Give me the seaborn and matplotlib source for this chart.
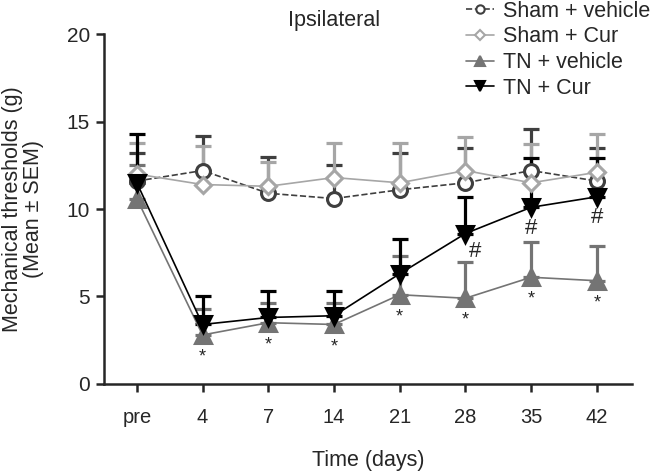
import numpy as np
import pandas as pd
import seaborn as sns
import matplotlib.pyplot as plt
from matplotlib.lines import Line2D

# time points (x categories)
days = ["pre", "4", "7", "14", "21", "28", "35", "42"]

# group means (g) and upper SEM
sham_veh = [11.6, 12.2, 10.9, 10.6, 11.1, 11.5, 12.2, 11.6]
sham_veh_sem = [1.6, 2.0, 2.1, 1.9, 2.1, 2.0, 2.4, 1.9]
sham_cur = [12.0, 11.4, 11.3, 11.8, 11.5, 12.2, 11.5, 12.1]
sham_cur_sem = [1.8, 2.2, 1.4, 2.0, 2.3, 1.9, 2.2, 2.2]
tn_veh = [10.6, 2.8, 3.5, 3.4, 5.1, 4.9, 6.1, 5.9]
tn_veh_sem = [1.9, 1.5, 1.1, 1.2, 2.2, 2.1, 2.0, 2.0]
tn_cur = [11.5, 3.4, 3.8, 3.9, 6.3, 8.6, 10.1, 10.7]
tn_cur_sem = [2.8, 1.6, 1.5, 1.4, 2.0, 2.1, 2.8, 2.2]

# significance marks
star_days = ["4", "7", "14", "21", "28", "35", "42"]
hash_days = ["28", "35", "42"]

sns.set_style("ticks")
plt.rcParams['font.family'] = ['Liberation Sans', 'DejaVu Sans']

fig = plt.figure(figsize=(6.56, 4.74), dpi=100)
ax = fig.add_axes([0.1585, 0.19, 0.8045, 0.738])

x = np.arange(len(days))

groups = [
    ("Sham + vehicle", sham_veh, sham_veh_sem, "#3f3f3f", "--", "o", "white", 10),
    ("Sham + Cur", sham_cur, sham_cur_sem, "#a6a6a6", "-", "D", "white", 8),
    ("TN + vehicle", tn_veh, tn_veh_sem, "#747474", "-", "^", "#747474", 12),
    ("TN + Cur", tn_cur, tn_cur_sem, "#000000", "-", "v", "#000000", 12),
]

handles = []
for i, (name, mean, sem, col, ls, mk, mfc, ms) in enumerate(groups):
    df = pd.DataFrame({"day": x, "value": mean})
    ax.errorbar(x, mean, yerr=[np.zeros(len(sem)), sem], fmt="none",
                ecolor=col, elinewidth=2.3, capsize=6, capthick=2.3, zorder=2 + i)
    sns.lineplot(data=df, x="day", y="value", ax=ax, color=col, linestyle=ls,
                 linewidth=1.2, marker=mk, markersize=ms, markerfacecolor=mfc,
                 markeredgecolor=col, markeredgewidth=2.2, zorder=6 + i)
    handles.append(Line2D([], [], color=col, linestyle=ls, linewidth=1.2,
                          marker=mk, markersize=ms * 0.6, markerfacecolor=mfc,
                          markeredgecolor=col, markeredgewidth=1.5, label=name))

# asterisks under TN + vehicle
for d in star_days:
    i = days.index(d)
    ax.annotate("*", (i, tn_veh[i]), xytext=(0, -16), textcoords="offset points",
                ha="center", va="center", fontsize=13)

# hashes under TN + Cur
hash_off = {"28": (7, -13), "35": (0, -15), "42": (0, -15)}
for d in hash_days:
    i = days.index(d)
    ax.annotate("#", (i, tn_cur[i]), xytext=hash_off[d], textcoords="offset points",
                ha="center", va="center", fontsize=16)

ax.set_xlim(-0.5, 7.53)
ax.set_ylim(0, 20)
ax.set_xticks(x)
ax.set_xticklabels(days, fontsize=14.5)
ax.set_yticks([0, 5, 10, 15, 20])
ax.tick_params(axis="y", labelsize=15, width=1.8, length=6, pad=4)
ax.tick_params(axis="x", width=1.8, length=6, pad=11)
for s in ["left", "bottom"]:
    ax.spines[s].set_linewidth(1.8)
sns.despine(ax=ax)

ax.set_xlabel("Time (days)", fontsize=15.5, labelpad=17)
ax.set_ylabel("Mechanical thresholds (g)\n(Mean ± SEM)", fontsize=15.5,
              labelpad=16, linespacing=1.0)
fig.text(0.51, 0.956, "Ipsilateral", ha="center", va="center", fontsize=15.5)

fig.legend(handles=handles, loc="upper left", bbox_to_anchor=(0.69, 1.026),
           frameon=False, fontsize=15.5, handlelength=1.3, handletextpad=0.45,
           labelspacing=0.22, borderpad=0.1)

fig.savefig("out.png", dpi=100)
